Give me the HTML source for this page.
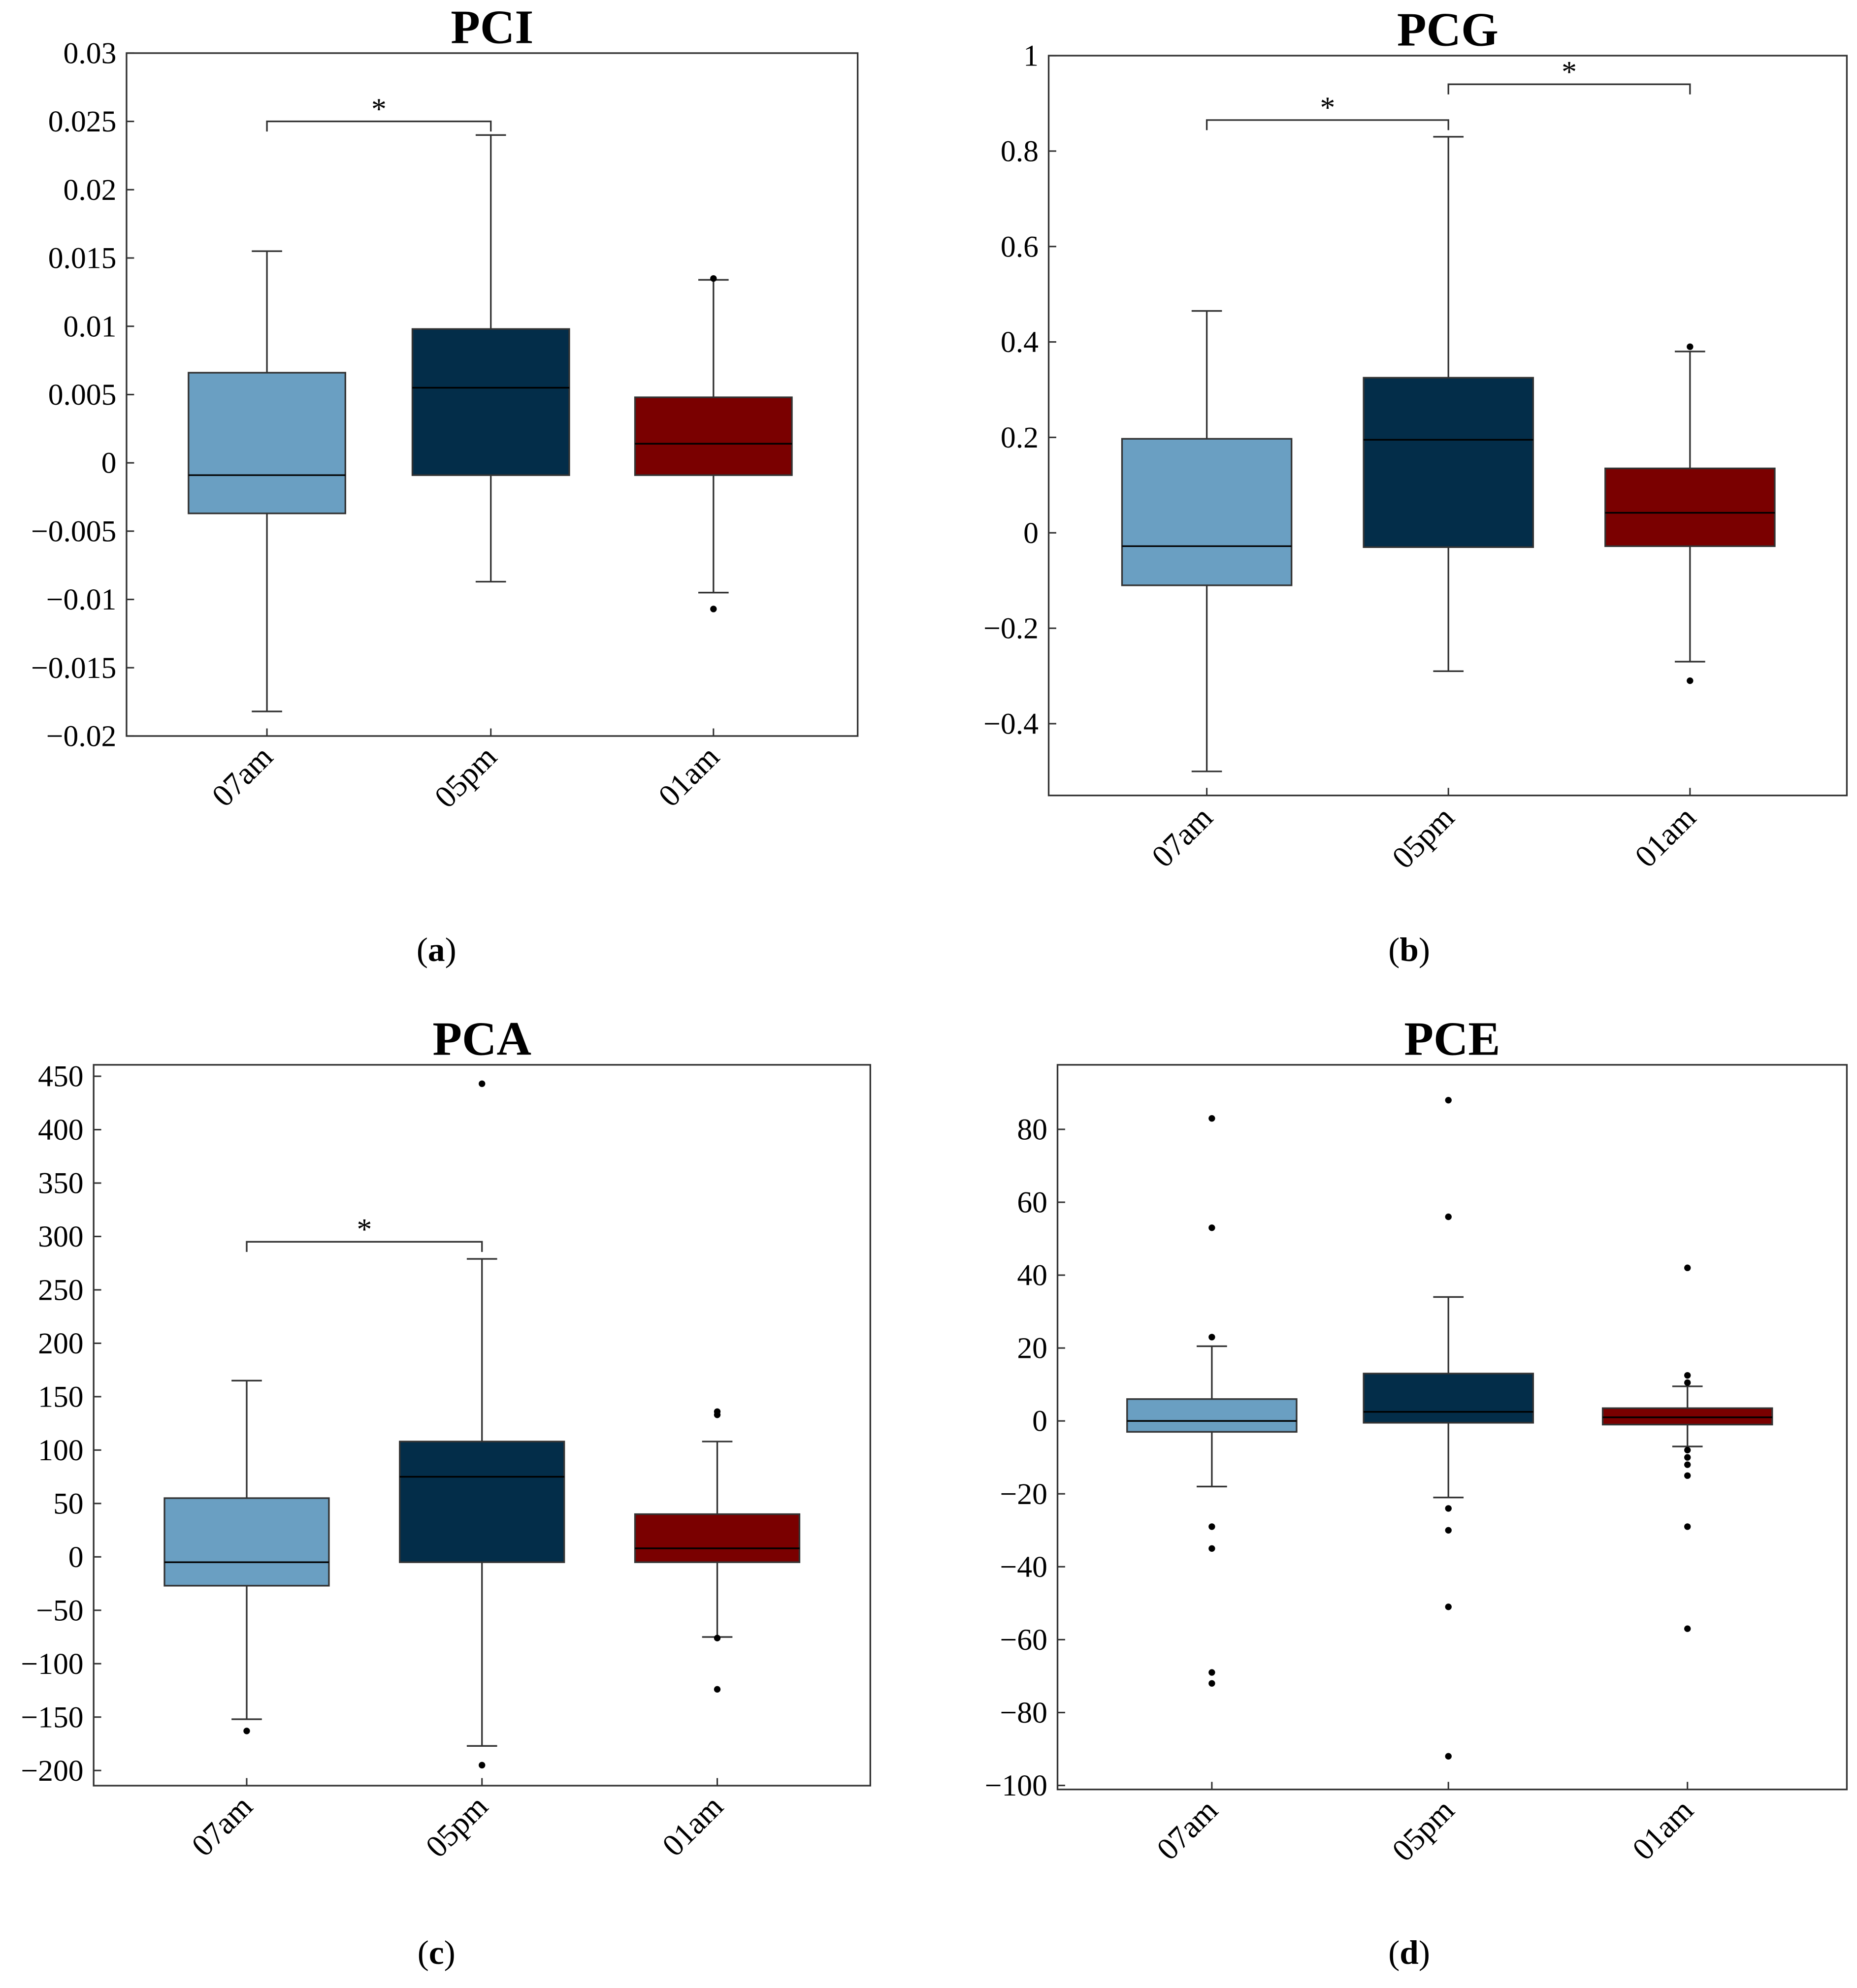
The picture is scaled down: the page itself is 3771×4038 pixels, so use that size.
<!DOCTYPE html>
<html><head><meta charset="utf-8">
<style>
html,body{margin:0;padding:0;background:#fff;}
svg{display:block;font-family:"Liberation Serif",serif;}
</style></head>
<body>
<svg id="fig" width="3771" height="4038" viewBox="0 0 1468 1572" xmlns="http://www.w3.org/2000/svg"></svg>
<script>
// ---- data ----
const categories = ["07am","05pm","01am"];
const colors = ["#6a9fc2","#032d49","#7a0000"];
const titles = ["PCI","PCG","PCA","PCE"];
const captions = ["a","b","c","d"];
// per panel: [whiskerLow, q1, median, q3, whiskerHigh] per category
const statsA = [[-0.0182,-0.0037,-0.0009,0.0066,0.0155],[-0.0087,-0.0009,0.0055,0.0098,0.024],[-0.0095,-0.0009,0.0014,0.0048,0.0134]];
const statsB = [[-0.50,-0.11,-0.028,0.197,0.465],[-0.29,-0.03,0.195,0.325,0.83],[-0.27,-0.028,0.042,0.135,0.38]];
const statsC = [[-152,-27,-5,55,165],[-177,-5,75,108,279],[-75,-5,8,40,108]];
const statsD = [[-18,-3,0,6,20.5],[-21,-0.5,2.5,13,34],[-7,-1,1,3.5,9.5]];
const outA = [[],[],[0.0135,-0.0107]];
const outB = [[],[],[0.39,-0.31]];
const outC = [[-163],[443,-195],[136,133,-76,-124]];
const outD = [[83,53,23,-29,-35,-69,-72],[88,56,-24,-30,-51,-92],[42,12.5,10.5,-8,-10,-12,-15,-29,-57]];
const ticksA = [0.03,0.025,0.02,0.015,0.01,0.005,0,-0.005,-0.01,-0.015,-0.02];
const ticksB = [1,0.8,0.6,0.4,0.2,0,-0.2,-0.4];
const ticksC = [450,400,350,300,250,200,150,100,50,0,-50,-100,-150,-200];
const ticksD = [80,60,40,20,0,-20,-40,-60,-80,-100];
// brackets: [fromCategoryIndex, toCategoryIndex, value]
const brA = [[0,1,0.025]];
const brB = [[0,1,0.865],[1,2,0.94]];
const brC = [[0,1,295]];
const brD = [];

// ---- layout ----
const panels = [
 {x0:100,x1:678,y0:42,y1:582,vTop:0.03,vBot:-0.02,cx:[211,388,564],bw:124,stats:statsA,out:outA,ticks:ticksA,br:brA,titleY:34,capX:345,capY:760,lblY:600},
 {x0:829,x1:1460,y0:44,y1:629,vTop:1.0,vBot:-0.5504,cx:[954,1145,1336],bw:134,stats:statsB,out:outB,ticks:ticksB,br:brB,titleY:36,capX:1114,capY:760,lblY:648},
 {x0:74,x1:688,y0:842,y1:1412,vTop:460.7,vBot:-214.2,cx:[195,381,567],bw:130,stats:statsC,out:outC,ticks:ticksC,br:brC,titleY:834,capX:345,capY:1553,lblY:1430},
 {x0:836,x1:1460,y0:842,y1:1415,vTop:97.7,vBot:-101.1,cx:[958,1145,1334],bw:134,stats:statsD,out:outD,ticks:ticksD,br:brD,titleY:834,capX:1114,capY:1553,lblY:1433}
];
const NS="http://www.w3.org/2000/svg";
const svg=document.getElementById('fig');
function mk(tag,attrs,parent){const e=document.createElementNS(NS,tag);for(const k in attrs)e.setAttribute(k,attrs[k]);(parent||svg).appendChild(e);return e;}
function fmt(v){return v<0?"\u2212"+String(-v):String(v);}

panels.forEach((p,pi)=>{
  const g=mk('g',{});
  
  
  const y=v=>p.y0+(p.vTop-v)/(p.vTop-p.vBot)*(p.y1-p.y0);
  const t=mk('text',{x:(p.x0+p.x1)/2,y:p.titleY,'text-anchor':'middle','font-size':38,'font-weight':'bold'},g);
  t.textContent=titles[pi];
  
  
  // boxes
  p.stats.forEach((s,i)=>{
    const cx=p.cx[i],hw=p.bw/2,cap=12;
    const bg=mk('g',{stroke:'#333','stroke-width':1.3},g);
    
    
    mk('line',{x1:cx,x2:cx,y1:y(s[4]),y2:y(s[3])},bg);
    mk('line',{x1:cx,x2:cx,y1:y(s[1]),y2:y(s[0])},bg);
    mk('line',{x1:cx-cap,x2:cx+cap,y1:y(s[4]),y2:y(s[4])},bg);
    mk('line',{x1:cx-cap,x2:cx+cap,y1:y(s[0]),y2:y(s[0])},bg);
    mk('rect',{x:cx-hw,y:y(s[3]),width:p.bw,height:y(s[1])-y(s[3]),fill:colors[i]},bg);
    mk('line',{x1:cx-hw,x2:cx+hw,y1:y(s[2]),y2:y(s[2]),stroke:'#000'},bg);
    p.out[i].forEach(o=>{
      const c=mk('circle',{cx:cx,cy:y(o),r:2.6,fill:'#000',stroke:'none'},g);
      
      
    });
  });
  // axes frame
  const fr=mk('rect',{x:p.x0,y:p.y0,width:p.x1-p.x0,height:p.y1-p.y0,fill:'none',stroke:'#333','stroke-width':1.3},g);
  
  
  p.ticks.forEach(v=>{
    const yy=y(v);
    mk('line',{x1:p.x0,x2:p.x0+6,y1:yy,y2:yy,stroke:'#333','stroke-width':1.2},g);
    const tl=mk('text',{x:p.x0-8,y:yy+8,'text-anchor':'end','font-size':24},g);
    tl.textContent=fmt(v);
    
    
  });
  categories.forEach((c,i)=>{
    const cx=p.cx[i];
    mk('line',{x1:cx,x2:cx,y1:p.y1,y2:p.y1-6,stroke:'#333','stroke-width':1.2},g);
    const xl=mk('text',{x:cx+6,y:p.lblY,'text-anchor':'end','font-size':25,transform:`rotate(-45 ${cx+6} ${p.lblY})`},g);
    xl.textContent=c;
    
    
  });
  p.br.forEach(b=>{
    const yy=y(b[2]),xa=p.cx[b[0]],xb=p.cx[b[1]];
    const pl=mk('polyline',{points:`${xa},${yy+8} ${xa},${yy} ${xb},${yy} ${xb},${yy+8}`,fill:'none',stroke:'#333','stroke-width':1.3},g);
    
    
    const st=mk('text',{x:(xa+xb)/2,y:yy-2,'text-anchor':'middle','font-size':24},g);
    st.textContent='*';
    
    
  });
  const cap=mk('text',{x:p.capX,y:p.capY,'text-anchor':'middle','font-size':27},g);
  cap.innerHTML='(<tspan font-weight="bold">'+captions[pi]+'</tspan>)';
  
  
});
</script>
</body></html>
